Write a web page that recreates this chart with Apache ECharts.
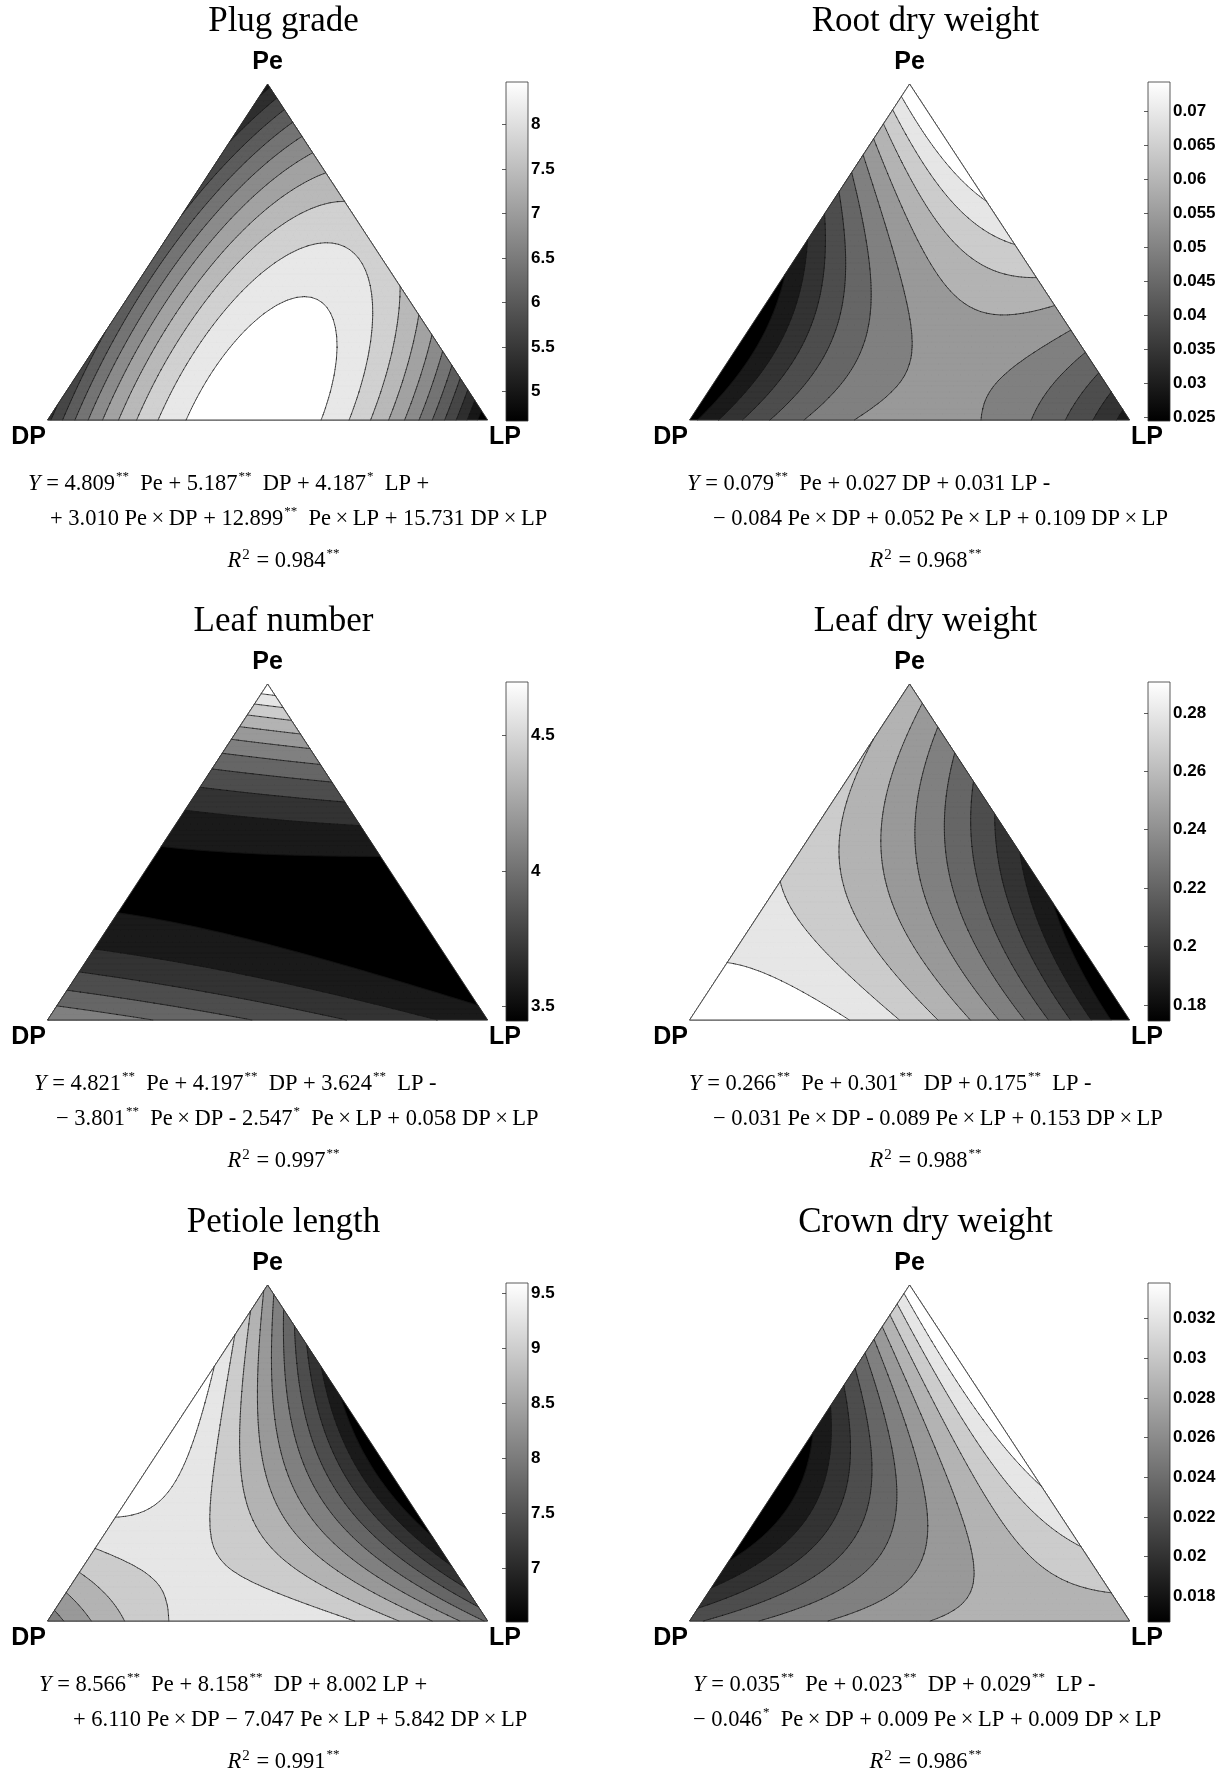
<!DOCTYPE html>
<html><head><meta charset="utf-8">
<script src="https://cdn.jsdelivr.net/npm/echarts@6/dist/echarts.min.js"></script>
<style>html,body{margin:0;padding:0;background:#fff}#c{width:1227px;height:1778px}</style>
</head><body><div id="c"></div>
<script>
// ---------------- data ----------------
const titles = ['Plug grade', 'Root dry weight', 'Leaf number', 'Leaf dry weight', 'Petiole length', 'Crown dry weight'];
const vertexNames = ['Pe', 'DP', 'LP'];
// Scheffé quadratic coefficients: [Pe, DP, LP, Pe×DP, Pe×LP, DP×LP]
const coefPlugGrade  = [4.809, 5.187, 4.187, 3.010, 12.899, 15.731];
const coefRootDW     = [0.079, 0.027, 0.031, -0.084, 0.052, 0.109];
const coefLeafNumber = [4.821, 4.197, 3.624, -3.801, -2.547, 0.058];
const coefLeafDW     = [0.266, 0.301, 0.175, -0.031, -0.089, 0.153];
const coefPetiole    = [8.566, 8.158, 8.002, 6.110, -7.047, 5.842];
const coefCrownDW    = [0.035, 0.023, 0.029, -0.046, 0.009, 0.009];
// number of filled contour bands
const bandCounts = [12, 11, 11, 11, 11, 11];
// colour bar range [min, max]
const cbarRanges = [[4.67, 8.48], [0.0244, 0.0743], [3.447, 4.696], [0.1745, 0.2906], [6.51, 9.59], [0.0167, 0.0338]];
// colour bar tick labels
const ticksPlugGrade  = [5, 5.5, 6, 6.5, 7, 7.5, 8];
const ticksRootDW     = [0.025, 0.03, 0.035, 0.04, 0.045, 0.05, 0.055, 0.06, 0.065, 0.07];
const ticksLeafNumber = [3.5, 4, 4.5];
const ticksLeafDW     = [0.18, 0.2, 0.22, 0.24, 0.26, 0.28];
const ticksPetiole    = [7, 7.5, 8, 8.5, 9, 9.5];
const ticksCrownDW    = [0.018, 0.02, 0.022, 0.024, 0.026, 0.028, 0.03, 0.032];
// regression equations (text)
const eqPlugGrade  = ['{i|Y} = 4.809{s|**}  Pe + 5.187{s|**}  DP + 4.187{s|*}  LP +', '+ 3.010 Pe×DP + 12.899{s|**}  Pe×LP + 15.731 DP×LP', '{i|R}{p|2} = 0.984{s|**}'];
const eqRootDW     = ['{i|Y} = 0.079{s|**}  Pe + 0.027 DP + 0.031 LP -', '− 0.084 Pe×DP + 0.052 Pe×LP + 0.109 DP×LP', '{i|R}{p|2} = 0.968{s|**}'];
const eqLeafNumber = ['{i|Y} = 4.821{s|**}  Pe + 4.197{s|**}  DP + 3.624{s|**}  LP -', '− 3.801{s|**}  Pe×DP - 2.547{s|*}  Pe×LP + 0.058 DP×LP', '{i|R}{p|2} = 0.997{s|**}'];
const eqLeafDW     = ['{i|Y} = 0.266{s|**}  Pe + 0.301{s|**}  DP + 0.175{s|**}  LP -', '− 0.031 Pe×DP - 0.089 Pe×LP + 0.153 DP×LP', '{i|R}{p|2} = 0.988{s|**}'];
const eqPetiole    = ['{i|Y} = 8.566{s|**}  Pe + 8.158{s|**}  DP + 8.002 LP +', '+ 6.110 Pe×DP − 7.047 Pe×LP + 5.842 DP×LP', '{i|R}{p|2} = 0.991{s|**}'];
const eqCrownDW    = ['{i|Y} = 0.035{s|**}  Pe + 0.023{s|**}  DP + 0.029{s|**}  LP -', '− 0.046{s|*}  Pe×DP + 0.009 Pe×LP + 0.009 DP×LP', '{i|R}{p|2} = 0.986{s|**}'];

const COEFS = [coefPlugGrade, coefRootDW, coefLeafNumber, coefLeafDW, coefPetiole, coefCrownDW];
const TICKS = [ticksPlugGrade, ticksRootDW, ticksLeafNumber, ticksLeafDW, ticksPetiole, ticksCrownDW];
const EQS = [eqPlugGrade, eqRootDW, eqLeafNumber, eqLeafDW, eqPetiole, eqCrownDW];

// ---------------- layout ----------------
const colX = [0, 642], rowY = [0, 600, 1201];
const TRI = {left: 47.6, top: 84, width: 440, height: 336};
const CB = {left: 506, top: 82, width: 22, height: 339};
const eqX = [[28, 50], [687, 713], [34, 56], [689, 713], [39, 73], [693, 693]];
const eqY = [484, 519, 561];
const MESH_N = 60;

// ---------------- contour computation ----------------
function model(c, p, d, l) { return c[0]*p + c[1]*d + c[2]*l + c[3]*p*d + c[4]*p*l + c[5]*d*l; }
function clipGE(pts, vs, L) {
  const out = [];
  for (let i = 0; i < pts.length; i++) {
    const j = (i + 1) % pts.length;
    const a = vs[i] - L, b = vs[j] - L;
    if (a >= 0) out.push(pts[i]);
    if ((a >= 0) !== (b >= 0)) {
      const t = a / (a - b);
      out.push([pts[i][0] + t*(pts[j][0]-pts[i][0]), pts[i][1] + t*(pts[j][1]-pts[i][1])]);
    }
  }
  return out;
}
function buildContours(c, N) {
  const n = MESH_N;
  const idx = (i, j) => i*(n+1) + j;
  const val = new Float64Array((n+1)*(n+1));
  let zmin = Infinity, zmax = -Infinity;
  for (let i = 0; i <= n; i++) for (let j = 0; j <= n - i; j++) {
    const p = i/n, l = j/n, d = Math.max(0, 1 - p - l);
    const v = model(c, p, d, l);
    val[idx(i, j)] = v;
    if (v < zmin) zmin = v; if (v > zmax) zmax = v;
  }
  const P = (i, j) => [j/n + i/(2*n), i/n];   // x = LP + Pe/2, y = Pe
  const tris = [];
  for (let i = 0; i < n; i++) for (let j = 0; j < n - i; j++) {
    const t1 = [[i, j], [i, j+1], [i+1, j]];
    tris.push({pts: t1.map(q => P(q[0], q[1])), vs: t1.map(q => val[idx(q[0], q[1])])});
    if (j < n - i - 1) {
      const t2 = [[i, j+1], [i+1, j+1], [i+1, j]];
      tris.push({pts: t2.map(q => P(q[0], q[1])), vs: t2.map(q => val[idx(q[0], q[1])])});
    }
  }
  const step = (zmax - zmin) / N;
  const levels = [];
  for (let k = 1; k < N; k++) levels.push(zmin + k*step);
  const bands = [[[[0, 0], [1, 0], [0.5, 1]]]];
  const segs = [];
  levels.forEach(L => {
    const polys = [];
    tris.forEach(t => {
      const mn = Math.min(t.vs[0], t.vs[1], t.vs[2]), mx = Math.max(t.vs[0], t.vs[1], t.vs[2]);
      if (mx < L) return;
      if (mn >= L) { polys.push(t.pts); return; }
      polys.push(clipGE(t.pts, t.vs, L));
      const cross = [];
      for (let e = 0; e < 3; e++) {
        const f = (e + 1) % 3;
        const a = t.vs[e] - L, b = t.vs[f] - L;
        if ((a >= 0) !== (b >= 0)) {
          const s = a / (a - b);
          cross.push([t.pts[e][0] + s*(t.pts[f][0]-t.pts[e][0]), t.pts[e][1] + s*(t.pts[f][1]-t.pts[e][1])]);
        }
      }
      if (cross.length === 2) segs.push(cross);
    });
    bands.push(polys);
  });
  return {bands, segs, N};
}

// ---------------- chart ----------------
const chart = echarts.init(document.getElementById('c'), null, {renderer: 'canvas'});
const option = {animation: false, grid: [], xAxis: [], yAxis: [], series: [], graphic: {elements: []}};
const fmt = v => String(parseFloat((+v).toFixed(6)));
const serif = 'Liberation Serif', sans = 'Liberation Sans';

titles.forEach((title, pi) => {
  const ox = colX[pi % 2], oy = rowY[Math.floor(pi / 2)];
  const C = buildContours(COEFS[pi], bandCounts[pi]);
  const N = C.N;

  // ternary grid
  const g = option.grid.length;
  option.grid.push({left: TRI.left + ox, top: TRI.top + oy, width: TRI.width, height: TRI.height});
  const xi = option.xAxis.length;
  option.xAxis.push({gridIndex: g, type: 'value', min: 0, max: 1, show: false});
  const yi = option.yAxis.length;
  option.yAxis.push({gridIndex: g, type: 'value', min: 0, max: 1, show: false});

  option.series.push({
    type: 'custom', coordinateSystem: 'cartesian2d', xAxisIndex: xi, yAxisIndex: yi, clip: false, silent: true,
    data: C.bands.map((_, k) => [0.5, 0.5, k]), encode: {x: 0, y: 1},
    renderItem: (params, api) => {
      const k = api.value(2);
      const polys = C.bands[k];
      let d = '';
      for (const poly of polys) {
        for (let m = 0; m < poly.length; m++) {
          const q = api.coord(poly[m]);
          d += (m ? 'L' : 'M') + q[0].toFixed(2) + ' ' + q[1].toFixed(2);
        }
        d += 'Z';
      }
      const gv = Math.round(255 * k / (N - 1));
      return {type: 'path', z2: k, shape: {pathData: d}, style: {fill: `rgb(${gv},${gv},${gv})`, stroke: `rgb(${gv},${gv},${gv})`, lineWidth: 0.3}};
    }
  });
  option.series.push({
    type: 'custom', coordinateSystem: 'cartesian2d', xAxisIndex: xi, yAxisIndex: yi, clip: false, silent: true, z: 3,
    data: [[0.5, 0.5]], encode: {x: 0, y: 1},
    renderItem: (params, api) => {
      let d = '';
      for (const s of C.segs) {
        const a = api.coord(s[0]), b = api.coord(s[1]);
        d += 'M' + a[0].toFixed(2) + ' ' + a[1].toFixed(2) + 'L' + b[0].toFixed(2) + ' ' + b[1].toFixed(2);
      }
      const A = api.coord([0, 0]), B = api.coord([1, 0]), T = api.coord([0.5, 1]);
      return {type: 'group', children: [
        {type: 'path', shape: {pathData: d}, style: {fill: 'none', stroke: '#111', lineWidth: 0.7, lineCap: 'round'}},
        {type: 'polygon', shape: {points: [A, B, T]}, style: {fill: 'none', stroke: '#333', lineWidth: 0.9, lineJoin: 'miter'}}
      ]};
    }
  });

  // colour bar
  const [cmin, cmax] = cbarRanges[pi];
  const gc = option.grid.length;
  option.grid.push({left: CB.left + ox, top: CB.top + oy, width: CB.width, height: CB.height});
  const xc = option.xAxis.length;
  option.xAxis.push({gridIndex: gc, type: 'value', min: 0, max: 1, show: false});
  const yc = option.yAxis.length;
  option.yAxis.push({gridIndex: gc, type: 'value', min: cmin, max: cmax, position: 'right',
    axisLine: {show: false}, splitLine: {show: false},
    axisTick: {show: true, inside: true, length: 4, lineStyle: {color: '#333', width: 0.8}, customValues: TICKS[pi]},
    axisLabel: {show: true, customValues: TICKS[pi], margin: 3, color: '#000', fontFamily: sans, fontWeight: 700, fontSize: 17, formatter: fmt}
  });
  option.yAxis.push({gridIndex: gc, type: 'value', min: cmin, max: cmax, position: 'left',
    axisLine: {show: false}, splitLine: {show: false},
    axisTick: {show: true, inside: true, length: 4, lineStyle: {color: '#333', width: 0.8}, customValues: TICKS[pi]},
    axisLabel: {show: false}
  });
  option.series.push({
    type: 'custom', coordinateSystem: 'cartesian2d', xAxisIndex: xc, yAxisIndex: yc, clip: false, silent: true, z: 1,
    data: [[0, cmin]], encode: {x: 0, y: 1},
    renderItem: (params, api) => {
      const a = api.coord([0, cmax]), b = api.coord([1, cmin]);
      return {type: 'rect', shape: {x: a[0], y: a[1], width: b[0] - a[0], height: b[1] - a[1]},
        style: {fill: new echarts.graphic.LinearGradient(0, 0, 0, 1, [{offset: 0, color: '#ffffff'}, {offset: 1, color: '#000000'}]),
                stroke: '#333', lineWidth: 0.8}};
    }
  });

  // texts
  const E = option.graphic.elements;
  E.push({type: 'text', x: 283.5 + ox, y: 22 + oy, silent: true,
    style: {text: title, fontFamily: serif, fontSize: 35, fill: '#000', align: 'center', verticalAlign: 'middle'}});
  const vpos = [[267.6, 62], [28.5, 437], [505, 437]];
  vertexNames.forEach((nm, vi) => {
    E.push({type: 'text', x: vpos[vi][0] + ox, y: vpos[vi][1] + oy, silent: true,
      style: {text: nm, fontFamily: sans, fontWeight: 'bold', fontSize: 25, fill: '#000', align: 'center', verticalAlign: 'middle'}});
  });
  const rich = {
    i: {fontFamily: serif, fontStyle: 'italic', fontSize: 22.5, lineHeight: 27},
    s: {fontFamily: serif, fontSize: 13, lineHeight: 27, verticalAlign: 'top', padding: [0, 0, 0, 1]},
    p: {fontFamily: serif, fontSize: 15, lineHeight: 27, verticalAlign: 'top', padding: [0, 1, 0, 1]}
  };
  const fixX = t => t.replace(/×/g, '\u2009×\u2009');
  EQS[pi].forEach((line, li) => {
    const isR = li === 2;
    E.push({type: 'text', x: isR ? 283.5 + ox : eqX[pi][li], y: eqY[li] + oy, silent: true,
      style: {text: fixX(line), fontFamily: serif, fontSize: 22.5, lineHeight: 27, fill: '#000', rich,
        align: isR ? 'center' : 'left', verticalAlign: 'middle'}});
  });
});

chart.setOption(option);
</script>
</body></html>
